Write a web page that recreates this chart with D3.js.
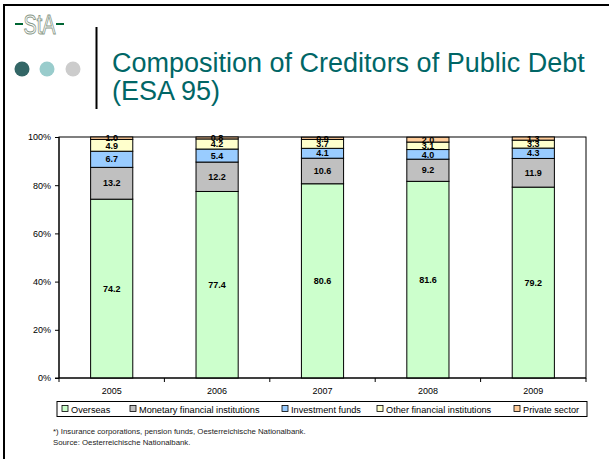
<!DOCTYPE html>
<html>
<head>
<meta charset="utf-8">
<script src="https://cdn.jsdelivr.net/npm/d3@7"></script>
<style>
  body { margin: 0; background: #fff; }
  svg { display: block; font-family: "Liberation Sans", Arial, sans-serif; }
</style>
</head>
<body>
<svg id="chart" width="609" height="459"></svg>
<script>
// chart data
var years = ["2005", "2006", "2007", "2008", "2009"];
var seriesNames = ["Overseas", "Monetary financial institutions", "Investment funds", "Other financial institutions", "Private sector"];
var overseas = [74.2, 77.4, 80.6, 81.6, 79.2];
var monetary = [13.2, 12.2, 10.6, 9.2, 11.9];
var investment = [6.7, 5.4, 4.1, 4.0, 4.3];
var otherFin = [4.9, 4.2, 3.7, 3.1, 3.3];
var privateSector = [1.0, 0.8, 0.9, 2.0, 1.3];
var yTicks = [0, 20, 40, 60, 80, 100];
var colors = ["#ccffcc", "#c0c0c0", "#99ccff", "#ffffcc", "#ffcc99"];

(function () {
  var svg = d3.select("#chart");

  // slide frame
  svg.append("line").attr("x1", 3).attr("x2", 609).attr("y1", 5).attr("y2", 5)
     .attr("stroke", "#000").attr("stroke-width", 2);
  svg.append("line").attr("x1", 4).attr("x2", 4).attr("y1", 4).attr("y2", 459)
     .attr("stroke", "#000").attr("stroke-width", 2);

  // logo
  var logo = svg.append("g");
  logo.append("line").attr("x1", 15).attr("x2", 23).attr("y1", 24).attr("y2", 24)
      .attr("stroke", "#006633").attr("stroke-width", 2);
  logo.append("line").attr("x1", 56).attr("x2", 64).attr("y1", 24).attr("y2", 24)
      .attr("stroke", "#006633").attr("stroke-width", 2);
  logo.append("text").attr("x", 39.5).attr("y", 34).attr("text-anchor", "middle")
      .attr("font-size", 28).attr("font-family", "'Liberation Sans Narrow', 'Liberation Sans', sans-serif")
      .attr("fill", "#fff").attr("stroke", "#8a9a8a").attr("stroke-width", 1)
      .attr("textLength", 32).attr("lengthAdjust", "spacingAndGlyphs").text("StA");
  [["#336666", 22], ["#99cccc", 47], ["#cccccc", 73]].forEach(function(c) {
    logo.append("circle").attr("cx", c[1]).attr("cy", 69).attr("r", 7.5).attr("fill", c[0]);
  });
  svg.append("line").attr("x1", 96.5).attr("x2", 96.5).attr("y1", 27).attr("y2", 109)
     .attr("stroke", "#000").attr("stroke-width", 2);

  // title
  var title = svg.append("text").attr("fill", "#006666").attr("font-size", 27);
  title.append("tspan").attr("x", 112).attr("y", 72).text("Composition of Creditors of Public Debt");
  title.append("tspan").attr("x", 112).attr("y", 100).text("(ESA 95)");

  // plot
  var pLeft = 59, pRight = 586, pTop = 137, pBottom = 378;

  var x = d3.scaleBand().domain(years).range([pLeft, pRight])
      .paddingInner(0.6).paddingOuter(0.3);
  var y = d3.scaleLinear().domain([0, 100]).range([pBottom, pTop]);

  var table = years.map(function(yr, i) {
    return { year: yr, s0: overseas[i], s1: monetary[i], s2: investment[i], s3: otherFin[i], s4: privateSector[i] };
  });
  var keys = ["s0", "s1", "s2", "s3", "s4"];
  var stacked = d3.stack().keys(keys)(table);

  // plot border
  svg.append("rect").attr("x", pLeft).attr("y", pTop).attr("width", pRight - pLeft).attr("height", pBottom - pTop)
     .attr("fill", "none").attr("stroke", "#000").attr("stroke-width", 1);

  var layers = svg.selectAll("g.layer").data(stacked).enter().append("g")
      .attr("class", "layer").attr("fill", function(d, i) { return colors[i]; });

  layers.selectAll("rect").data(function(d) { return d; }).enter().append("rect")
      .attr("x", function(d) { return x(d.data.year); })
      .attr("width", x.bandwidth())
      .attr("y", function(d) { return y(d[1]); })
      .attr("height", function(d) { return y(d[0]) - y(d[1]); })
      .attr("stroke", "#000").attr("stroke-width", 1);

  layers.selectAll("text").data(function(d) { return d; }).enter().append("text")
      .attr("x", function(d) { return x(d.data.year) + x.bandwidth() / 2; })
      .attr("y", function(d) { return (y(d[0]) + y(d[1])) / 2 + 3.2; })
      .attr("text-anchor", "middle").attr("font-size", 9).attr("font-weight", "bold")
      .attr("fill", "#000")
      .text(function(d) { return (d[1] - d[0]).toFixed(1); });

  // axes
  var yAxis = svg.append("g").attr("transform", "translate(" + pLeft + ",0)")
      .call(d3.axisLeft(y).tickValues(yTicks).tickSize(4).tickPadding(4)
        .tickFormat(function(d) { return d + "%"; }));
  yAxis.select(".domain").remove();
  yAxis.selectAll("text").attr("font-size", 9).attr("font-family", "'Liberation Sans', Arial, sans-serif");
  svg.append("line").attr("x1", pLeft).attr("x2", pLeft).attr("y1", pTop).attr("y2", pBottom).attr("stroke", "#000");

  var xb = svg.append("g");
  d3.range(years.length + 1).forEach(function(i) {
    var xx = pLeft + i * x.step();
    xb.append("line").attr("x1", xx).attr("x2", xx).attr("y1", pBottom).attr("y2", pBottom + 4).attr("stroke", "#000");
  });
  xb.append("line").attr("x1", pLeft - 4).attr("x2", pRight).attr("y1", pBottom).attr("y2", pBottom).attr("stroke", "#000");
  xb.selectAll("text").data(years).enter().append("text")
      .attr("x", function(d) { return x(d) + x.bandwidth() / 2; })
      .attr("y", pBottom + 16).attr("text-anchor", "middle").attr("font-size", 9)
      .text(function(d) { return d; });

  // legend
  var legend = svg.append("g");
  legend.append("rect").attr("x", 57).attr("y", 401.5).attr("width", 530).attr("height", 15)
      .attr("fill", "#fff").attr("stroke", "#000");
  var legendX = [62, 130, 282, 377, 514];
  seriesNames.forEach(function(name, i) {
    legend.append("rect").attr("x", legendX[i]).attr("y", 405.5).attr("width", 6).attr("height", 6)
        .attr("fill", colors[i]).attr("stroke", "#000").attr("stroke-width", 0.8);
    legend.append("text").attr("x", legendX[i] + 9).attr("y", 412.5).attr("font-size", 9.2)
        .text(name);
  });

  // footnotes
  svg.append("text").attr("x", 53).attr("y", 434).attr("font-size", 7.8).attr("fill", "#222")
     .text("*) Insurance corporations, pension funds, Oesterreichische Nationalbank.");
  svg.append("text").attr("x", 53).attr("y", 445).attr("font-size", 7.8).attr("fill", "#222")
     .text("Source:  Oesterreichische Nationalbank.");
})();
</script>
</body>
</html>
